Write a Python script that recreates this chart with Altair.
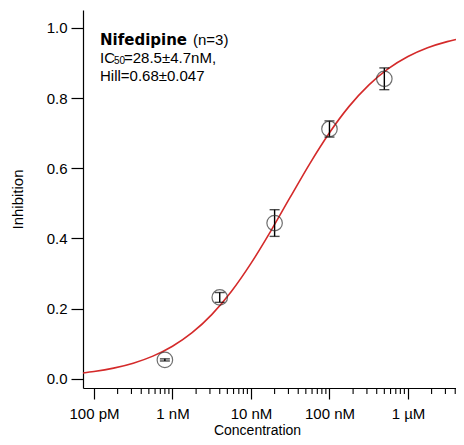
import altair as alt
import pandas as pd

# ---- data ----
conc_nM = [0.8, 4, 20, 100, 500]
inhibition = [0.054, 0.232, 0.444, 0.712, 0.855]
inhibition_err = [0.003, 0.014, 0.038, 0.023, 0.031]

# fitted Hill curve (IC50 = 28.5 nM, Hill = 0.68)
curve_log10_M = [-10.14, -10.0, -9.75, -9.5, -9.25, -9.0, -8.75, -8.5, -8.25, -8.0,
                 -7.75, -7.5, -7.25, -7.0, -6.75, -6.5, -6.25, -6.0, -5.75, -5.5, -5.388]
curve_inhibition = [0.0169, 0.0210, 0.0307, 0.0447, 0.0648, 0.0930, 0.1316, 0.1831, 0.2490, 0.3291,
                    0.4204, 0.5176, 0.6135, 0.7013, 0.7764, 0.8370, 0.8837, 0.9183, 0.9433, 0.9609, 0.9670]

x_tick_values_M = [1e-10, 1e-9, 1e-8, 1e-7, 1e-6]
x_tick_labels = ["100 pM", "1 nM", "10 nM", "100 nM", "1 µM"]
minor_multipliers = [2, 3, 4, 5, 6, 7, 8, 9]
y_tick_values = [0.0, 0.2, 0.4, 0.6, 0.8, 1.0]

title_bold = ["Nifedipine"]
title_rest = ["(n=3)"]
ic_text = ["IC"]
ic_sub = ["50"]
ic_value = ["=28.5±4.7nM,"]
hill_text = ["Hill=0.68±0.047"]

# ---- tables ----
x_min, x_max = 10 ** curve_log10_M[0], 10 ** curve_log10_M[-1]
pts = pd.DataFrame({
    "conc": [c * 1e-9 for c in conc_nM],
    "inh": inhibition,
    "lo": [v - e for v, e in zip(inhibition, inhibition_err)],
    "hi": [v + e for v, e in zip(inhibition, inhibition_err)],
})
curve = pd.DataFrame({"conc": [10 ** v for v in curve_log10_M], "inh": curve_inhibition})
minor = pd.DataFrame({"conc": [m * d for d in x_tick_values_M for m in minor_multipliers
                               if m * d <= x_max]})

W, H = 373, 378
FONT = "Liberation Sans"

label_expr = " : ".join(
    f"abs(datum.value/{v:g}-1)<1e-6 ? '{l}'" for v, l in zip(x_tick_values_M, x_tick_labels)
) + " : ''"

x_scale = alt.Scale(type="log", domain=[x_min, x_max], nice=False)
y_scale = alt.Scale(domain=[-0.026, 1.051], nice=False, zero=False)

x_axis = alt.Axis(values=x_tick_values_M, labelExpr=label_expr, tickSize=11, labelPadding=7,
                  labelFont=FONT, labelFontSize=15, labelColor="black", labelOverlap=False,
                  labelFlush=False, domainColor="black", domainWidth=1.2, tickColor="black",
                  tickWidth=1.2, grid=False, title="Concentration", titleFont=FONT,
                  titleFontSize=14, titleFontWeight="normal", titleColor="black",
                  titleX=174, titleY=46, titleBaseline="alphabetic", titleAlign="center")
y_axis = alt.Axis(values=y_tick_values, format=".1f", tickSize=12, labelPadding=4,
                  labelFont=FONT, labelFontSize=15, labelColor="black", domainColor="black",
                  domainWidth=1.2, tickColor="black", tickWidth=1.2, grid=False,
                  title="Inhibition", titleFont=FONT, titleFontSize=15, titleFontWeight="normal",
                  titleColor="black", titleX=-66, titleY=H / 2, titleAngle=270,
                  titleBaseline="middle", titleAlign="center")

X = alt.X("conc:Q", scale=x_scale, axis=x_axis)
Y = alt.Y("inh:Q", scale=y_scale, axis=y_axis)

line = alt.Chart(curve).mark_line(color="#d42a2a", strokeWidth=1.6, interpolate="monotone").encode(x=X, y=Y)
circles = alt.Chart(pts).mark_point(shape="circle", filled=False, size=240, color="#333333",
                                    strokeWidth=1.2).encode(x=X, y=Y)
bars = alt.Chart(pts).mark_rule(color="black", strokeWidth=1.4).encode(
    x=X, y=alt.Y("lo:Q", scale=y_scale, axis=y_axis), y2="hi:Q")
cap_lo = alt.Chart(pts).mark_tick(orient="horizontal", size=10, thickness=1.4, color="black").encode(
    x=X, y=alt.Y("lo:Q", scale=y_scale, axis=y_axis))
cap_hi = alt.Chart(pts).mark_tick(orient="horizontal", size=10, thickness=1.4, color="black").encode(
    x=X, y=alt.Y("hi:Q", scale=y_scale, axis=y_axis))
minor_ticks = alt.Chart(minor).mark_rule(color="black", strokeWidth=1.1).encode(
    x=X, y=alt.value(H), y2=alt.value(H + 6))


def label(txt, px, py, size=15, weight="normal", font=FONT):
    return alt.Chart(pd.DataFrame({"t": txt})).mark_text(
        font=font, fontSize=size, fontWeight=weight, align="left", baseline="alphabetic",
        color="black").encode(text="t:N", x=alt.value(px), y=alt.value(py))


texts = [
    label(title_bold, 17, 35, size=15, weight="bold", font="DejaVu Sans"),
    label(title_rest, 110, 35),
    label(ic_text, 17, 53),
    label(ic_sub, 31, 54, size=10),
    label(ic_value, 41, 53),
    label(hill_text, 17, 71),
]

chart = alt.layer(line, bars, cap_lo, cap_hi, circles, minor_ticks, *texts).properties(
    width=W, height=H,
    autosize=alt.AutoSizeParams(type="none"),
    padding={"left": 75, "top": 2, "right": 0, "bottom": 49},
).configure_view(stroke=None)

chart.save("out.html", embed_options={"renderer": "svg", "actions": False})
